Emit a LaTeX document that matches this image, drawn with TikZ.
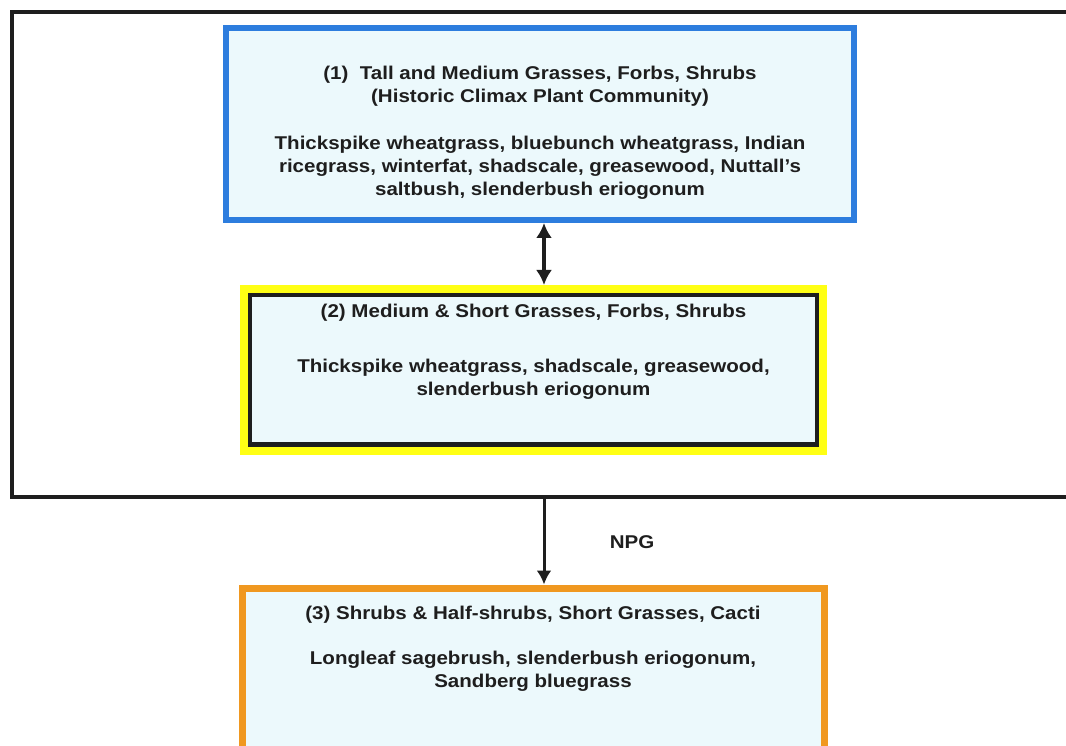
\documentclass[tikz,border=0pt]{standalone}
\usepackage{fontspec}
\setmainfont[FakeStretch=1.11]{Liberation Sans}
\usetikzlibrary{arrows.meta}

\definecolor{boxfill}{RGB}{236,249,252}
\definecolor{climaxblue}{RGB}{45,125,222}
\definecolor{stateyellow}{RGB}{255,255,20}
\definecolor{shruborange}{RGB}{240,152,32}
\definecolor{inkgray}{RGB}{30,30,30}

\begin{document}
\begin{tikzpicture}[x=1pt, y=-1pt,
    txt/.style={font=\fontsize{18.5}{23}\selectfont\bfseries, text=inkgray, align=center},
    climaxblock/.style={rectangle, txt, draw=climaxblue, fill=boxfill, line width=6pt},
    stateblock/.style={rectangle, txt, draw=inkgray, fill=boxfill, line width=4.5pt, outer sep=10pt,
        preaction={draw=stateyellow, line width=20pt}},
    shrubblock/.style={rectangle, txt, draw=shruborange, fill=boxfill, line width=7pt},
    frame/.style={rectangle, draw=inkgray, line width=4pt, outer sep=0pt},
    line/.style={draw=inkgray, -{Latex[length=14pt, width=15pt]}, line width=3pt},
    dblline/.style={draw=inkgray, {Latex[length=15pt, width=16pt]}-{Latex[length=15pt, width=16pt]}, line width=4pt}]
    \useasboundingbox [fill=white] (0,0) rectangle (1066,746);
    \node [frame, anchor=north west, minimum width=1080pt, minimum height=484.5pt] (outer) at (12,12.5) {};
    \node [climaxblock, minimum width=628pt, minimum height=192pt] (climax) at (540,124)
        {\rule{0pt}{30pt}(1)\ \ Tall and Medium Grasses, Forbs, Shrubs\\(Historic Climax Plant Community)\\[24pt]
         Thickspike wheatgrass, bluebunch wheatgrass, Indian\\ricegrass, winterfat, shadscale, greasewood, Nuttall's\\saltbush, slenderbush eriogonum};
    \node [stateblock, minimum width=567pt, minimum height=149.5pt] (medium) at (533.5,369.75)
        {(2) Medium \& Short Grasses, Forbs, Shrubs\\[32pt]
         Thickspike wheatgrass, shadscale, greasewood,\\slenderbush eriogonum\rule[-39pt]{0pt}{39pt}};
    \node [shrubblock, minimum width=582pt, minimum height=212pt] (shrub) at (533,694)
        {(3) Shrubs \& Half-shrubs, Short Grasses, Cacti\\[22pt]
         Longleaf sagebrush, slenderbush eriogonum,\\Sandberg bluegrass\rule[-94pt]{0pt}{94pt}};
    \coordinate (spine) at (544,0);
    \node [txt] (npg) at (632,542) {NPG};
    \path [dblline] (climax.south -| spine) -- (medium.north -| spine);
    \path [line] (outer.south -| spine) -- (shrub.north -| spine);
\end{tikzpicture}
\end{document}
